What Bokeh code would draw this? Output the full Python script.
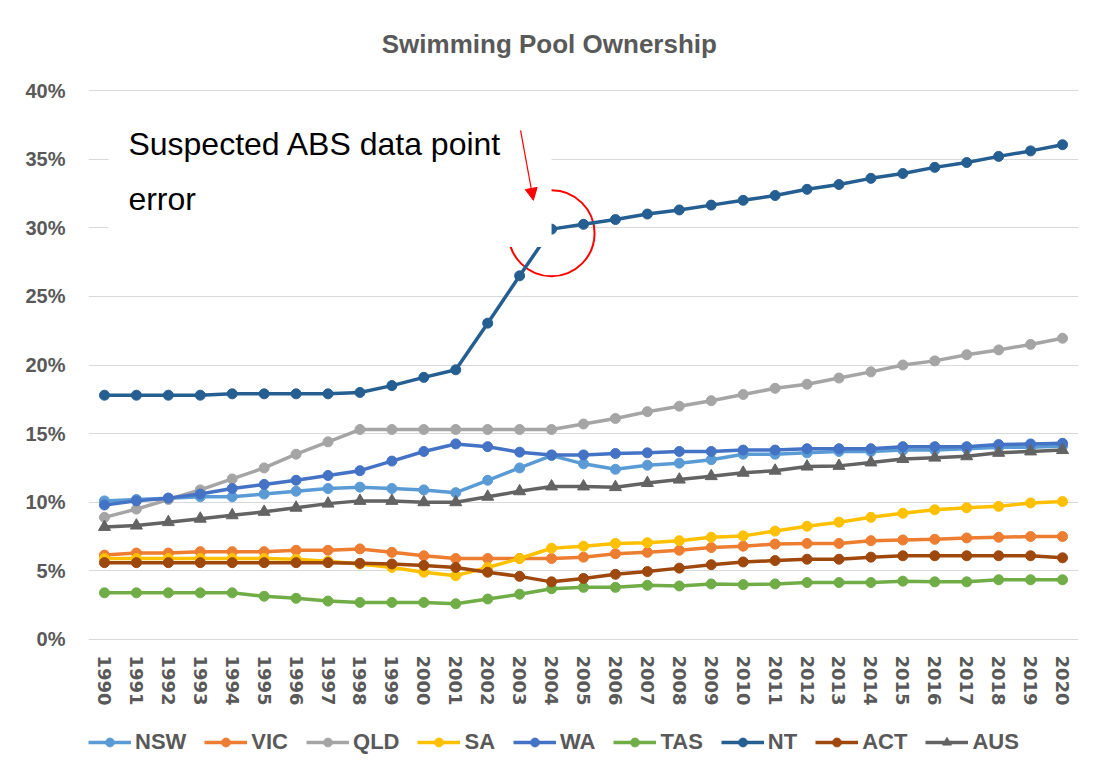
from bokeh.plotting import figure
from bokeh.models import (FactorRange, Range1d, FixedTicker, PrintfTickFormatter, Legend,
                          LegendItem, BoxAnnotation, Label, Arrow, NormalHead)
from bokeh.embed import file_html
from bokeh.resources import INLINE

years = [str(y) for y in range(1990, 2021)]

NSW = [10.1, 10.2, 10.3, 10.4, 10.4, 10.6, 10.8, 11.0, 11.1, 11.0, 10.9, 10.7, 11.6, 12.5, 13.4,
       12.8, 12.4, 12.7, 12.85, 13.1, 13.5, 13.5, 13.6, 13.7, 13.7, 13.8, 13.8, 13.9, 14.0, 14.0, 14.1]
VIC = [6.15, 6.3, 6.3, 6.4, 6.4, 6.4, 6.5, 6.5, 6.6, 6.35, 6.1, 5.9, 5.9, 5.9, 5.9,
       6.0, 6.25, 6.35, 6.5, 6.7, 6.8, 6.95, 7.0, 7.0, 7.2, 7.25, 7.3, 7.4, 7.45, 7.5, 7.5]
QLD = [8.9, 9.5, 10.2, 10.9, 11.7, 12.5, 13.5, 14.4, 15.3, 15.3, 15.3, 15.3, 15.3, 15.3, 15.3,
       15.7, 16.1, 16.6, 17.0, 17.4, 17.85, 18.3, 18.6, 19.05, 19.5, 20.0, 20.3, 20.75, 21.1, 21.5, 21.95]
SA = [5.9, 5.9, 5.9, 5.9, 5.9, 5.9, 5.85, 5.7, 5.5, 5.25, 4.9, 4.65, 5.25, 5.9, 6.65,
      6.8, 7.0, 7.05, 7.2, 7.45, 7.55, 7.9, 8.25, 8.55, 8.9, 9.2, 9.45, 9.6, 9.7, 9.95, 10.05]
WA = [9.8, 10.1, 10.3, 10.6, 11.0, 11.3, 11.6, 11.95, 12.3, 13.0, 13.7, 14.25, 14.05, 13.65, 13.45,
      13.45, 13.55, 13.6, 13.7, 13.7, 13.8, 13.8, 13.9, 13.9, 13.9, 14.05, 14.05, 14.05, 14.2, 14.25, 14.3]
TAS = [3.4, 3.4, 3.4, 3.4, 3.4, 3.15, 3.0, 2.8, 2.7, 2.7, 2.7, 2.6, 2.95, 3.3, 3.7,
       3.8, 3.8, 3.95, 3.9, 4.05, 4.0, 4.05, 4.15, 4.15, 4.15, 4.25, 4.2, 4.2, 4.35, 4.35, 4.35]
NT = [17.8, 17.8, 17.8, 17.8, 17.9, 17.9, 17.9, 17.9, 18.0, 18.5, 19.1, 19.65, 23.05, 26.5, 29.9,
      30.25, 30.6, 31.0, 31.3, 31.65, 32.0, 32.35, 32.8, 33.15, 33.6, 33.95, 34.4, 34.75, 35.2, 35.6, 36.05]
ACT = [5.6, 5.6, 5.6, 5.6, 5.6, 5.6, 5.6, 5.6, 5.55, 5.5, 5.4, 5.25, 4.9, 4.6, 4.2,
       4.45, 4.75, 4.95, 5.2, 5.45, 5.65, 5.75, 5.85, 5.85, 6.0, 6.1, 6.1, 6.1, 6.1, 6.1, 5.95]
AUS = [8.2, 8.3, 8.55, 8.8, 9.05, 9.3, 9.6, 9.9, 10.1, 10.1, 10.0, 10.0, 10.4, 10.8, 11.15,
       11.15, 11.1, 11.4, 11.65, 11.9, 12.15, 12.3, 12.6, 12.65, 12.9, 13.15, 13.25, 13.35, 13.6, 13.7, 13.8]

series_names = ["NSW", "VIC", "QLD", "SA", "WA", "TAS", "NT", "ACT", "AUS"]
series_values = [NSW, VIC, QLD, SA, WA, TAS, NT, ACT, AUS]
series_colors = ["#5B9BD5", "#ED7D31", "#A5A5A5", "#FFC000", "#4472C4", "#70AD47",
                 "#255E91", "#9E480E", "#636363"]
series_markers = ["circle"] * 8 + ["triangle"]

y_ticks = [0, 5, 10, 15, 20, 25, 30, 35, 40]

TICK_COLOR = "#595959"

# The frame extends above 40% and below 0% so that the title and legend can sit
# inside it; only 0..40 carry ticks and gridlines.
p = figure(x_range=FactorRange(factors=years, range_padding=0),
           y_range=Range1d(-9.545, 45.83),
           frame_width=990, frame_height=760,
           min_border_left=88, min_border_right=8, min_border_top=10, min_border_bottom=0,
           output_backend="svg", toolbar_location=None)

p.outline_line_color = None
p.background_fill_color = "white"
p.border_fill_color = "white"

p.xgrid.grid_line_color = None
p.ygrid.grid_line_color = "#D9D9D9"
p.ygrid.grid_line_width = 1

p.yaxis.ticker = FixedTicker(ticks=y_ticks)
p.yaxis.formatter = PrintfTickFormatter(format="%d%%")
for ax in (p.xaxis[0], p.yaxis[0]):
    ax.axis_line_color = None
    ax.major_tick_line_color = None
    ax.minor_tick_line_color = None
    ax.major_label_text_color = TICK_COLOR
    ax.major_label_text_font_style = "bold"
p.yaxis.major_label_text_font = "Liberation Sans"
p.yaxis.major_label_text_font_size = "20px"
p.yaxis.major_label_standoff = 17
p.xaxis.fixed_location = 0
p.xaxis.major_label_text_font = "DejaVu Sans"
p.xaxis.major_label_text_font_size = "18px"
p.xaxis.major_label_orientation = "vertical"
p.xaxis.major_label_standoff = 10

# title
p.add_layout(Label(x=14.43, y=43.42, text="Swimming Pool Ownership", text_font="Liberation Sans",
                   text_font_size="26px", text_font_style="bold", text_color=TICK_COLOR,
                   text_align="center", text_baseline="middle"))

# annotation circle (drawn under the white text box)
p.scatter(x=["2004"], y=[29.6], marker="circle", size=86, fill_color=None,
          line_color="#FF0000", line_width=2)

items = []
for name, vals, col, mk in zip(series_names, series_values, series_colors, series_markers):
    lr = p.line(years, vals, line_color=col, line_width=3.5)
    sr = p.scatter(years, vals, marker=mk, size=12 if mk == "triangle" else 10,
                   fill_color=col, line_color=col)
    items.append(LegendItem(label=name, renderers=[lr, sr]))

box = BoxAnnotation(left=0.63, right=14.5, top=38.2, bottom=28.6,
                    fill_color="white", fill_alpha=1.0, line_color=None)
p.add_layout(box)

p.add_layout(Label(x=1.25, y=36.1, text="Suspected ABS data point", text_font="Liberation Sans",
                   text_font_size="32px", text_color="black", text_baseline="alphabetic"))
p.add_layout(Label(x=1.25, y=32.1, text="error", text_font="Liberation Sans",
                   text_font_size="32px", text_color="black", text_baseline="alphabetic"))

p.add_layout(Arrow(end=NormalHead(size=12, fill_color="#FF0000", line_color="#FF0000"),
                   x_start=13.53, y_start=37.1, x_end=13.93, y_end=32.0,
                   line_color="#FF0000", line_width=1.2))

legend = Legend(items=items, orientation="horizontal", location=(0, 15),
                margin=0, padding=4, spacing=18, glyph_width=43, glyph_height=22,
                label_standoff=4, border_line_color=None, background_fill_alpha=0,
                label_text_font="Liberation Sans", label_text_font_style="bold",
                label_text_font_size="22px", label_text_color=TICK_COLOR)
p.add_layout(legend)

open("out.html", "w").write(file_html(p, INLINE))
